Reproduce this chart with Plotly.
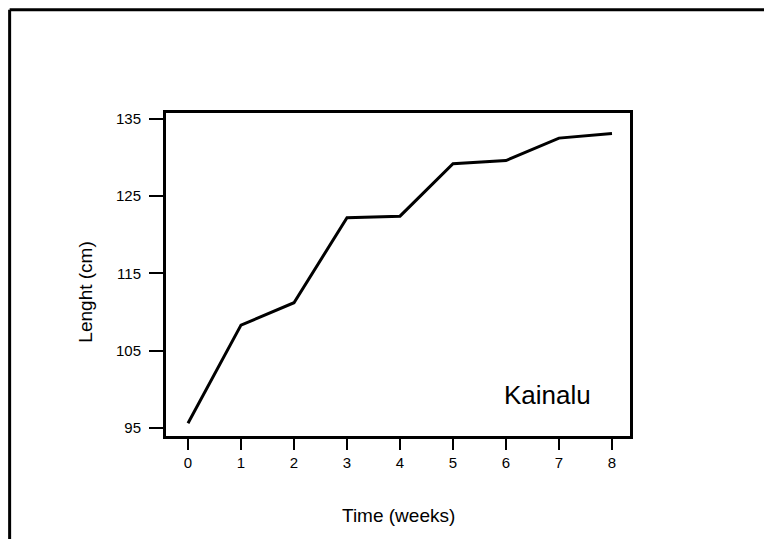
import plotly.graph_objects as go

weeks = [0, 1, 2, 3, 4, 5, 6, 7, 8]
length_cm = [95.6, 108.3, 111.2, 122.2, 122.4, 129.2, 129.6, 132.5, 133.1]
y_ticks = [95, 105, 115, 125, 135]
y_tick_labels = ["95", "105", "115", "125", "135"]

font_family = "Arial, Liberation Sans, sans-serif"

fig = go.Figure()
fig.add_trace(go.Scatter(
    x=weeks,
    y=length_cm,
    mode="lines",
    line=dict(color="black", width=3),
    showlegend=False,
))

# outer frame (top and left edges only, as in the scan)
fig.add_shape(type="line", xref="paper", yref="paper",
              x0=-0.337, y0=1.320, x1=1.33, y1=1.320,
              line=dict(color="black", width=3))
fig.add_shape(type="line", xref="paper", yref="paper",
              x0=-0.337, y0=1.320, x1=-0.337, y1=-0.36,
              line=dict(color="black", width=3))

fig.add_annotation(text="Kainalu", x=6.79, y=99.3, xref="x", yref="y",
                   showarrow=False, font=dict(size=26, color="black", family=font_family))
fig.add_annotation(text="Lenght (cm)", xref="paper", yref="paper",
                   x=-0.2, y=0.446, textangle=-90, showarrow=False,
                   font=dict(size=19, color="black", family=font_family))
fig.add_annotation(text="Time (weeks)", xref="paper", yref="paper",
                   x=0.5, y=-0.2446, yanchor="middle", showarrow=False,
                   font=dict(size=19, color="black", family=font_family))

fig.update_layout(
    width=772,
    height=539,
    margin=dict(l=158, r=150, t=105, b=111),
    paper_bgcolor="white",
    plot_bgcolor="white",
    font=dict(family=font_family, color="black", size=15),
    xaxis=dict(
        range=[-0.415, 8.34],
        tickvals=weeks,
        tickfont=dict(size=15),
        ticks="outside",
        ticklen=11,
        tickwidth=2,
        tickcolor="black",
        showline=True,
        linecolor="black",
        linewidth=3,
        mirror=True,
        showgrid=False,
        zeroline=False,
    ),
    yaxis=dict(
        range=[93.96, 135.75],
        tickvals=y_ticks,
        ticktext=y_tick_labels,
        tickfont=dict(size=15),
        ticks="outside",
        ticklen=14,
        tickwidth=2,
        tickcolor="black",
        ticklabelstandoff=5,
        showline=True,
        linecolor="black",
        linewidth=3,
        mirror=True,
        showgrid=False,
        zeroline=False,
    ),
)

fig.write_html("out.html")
